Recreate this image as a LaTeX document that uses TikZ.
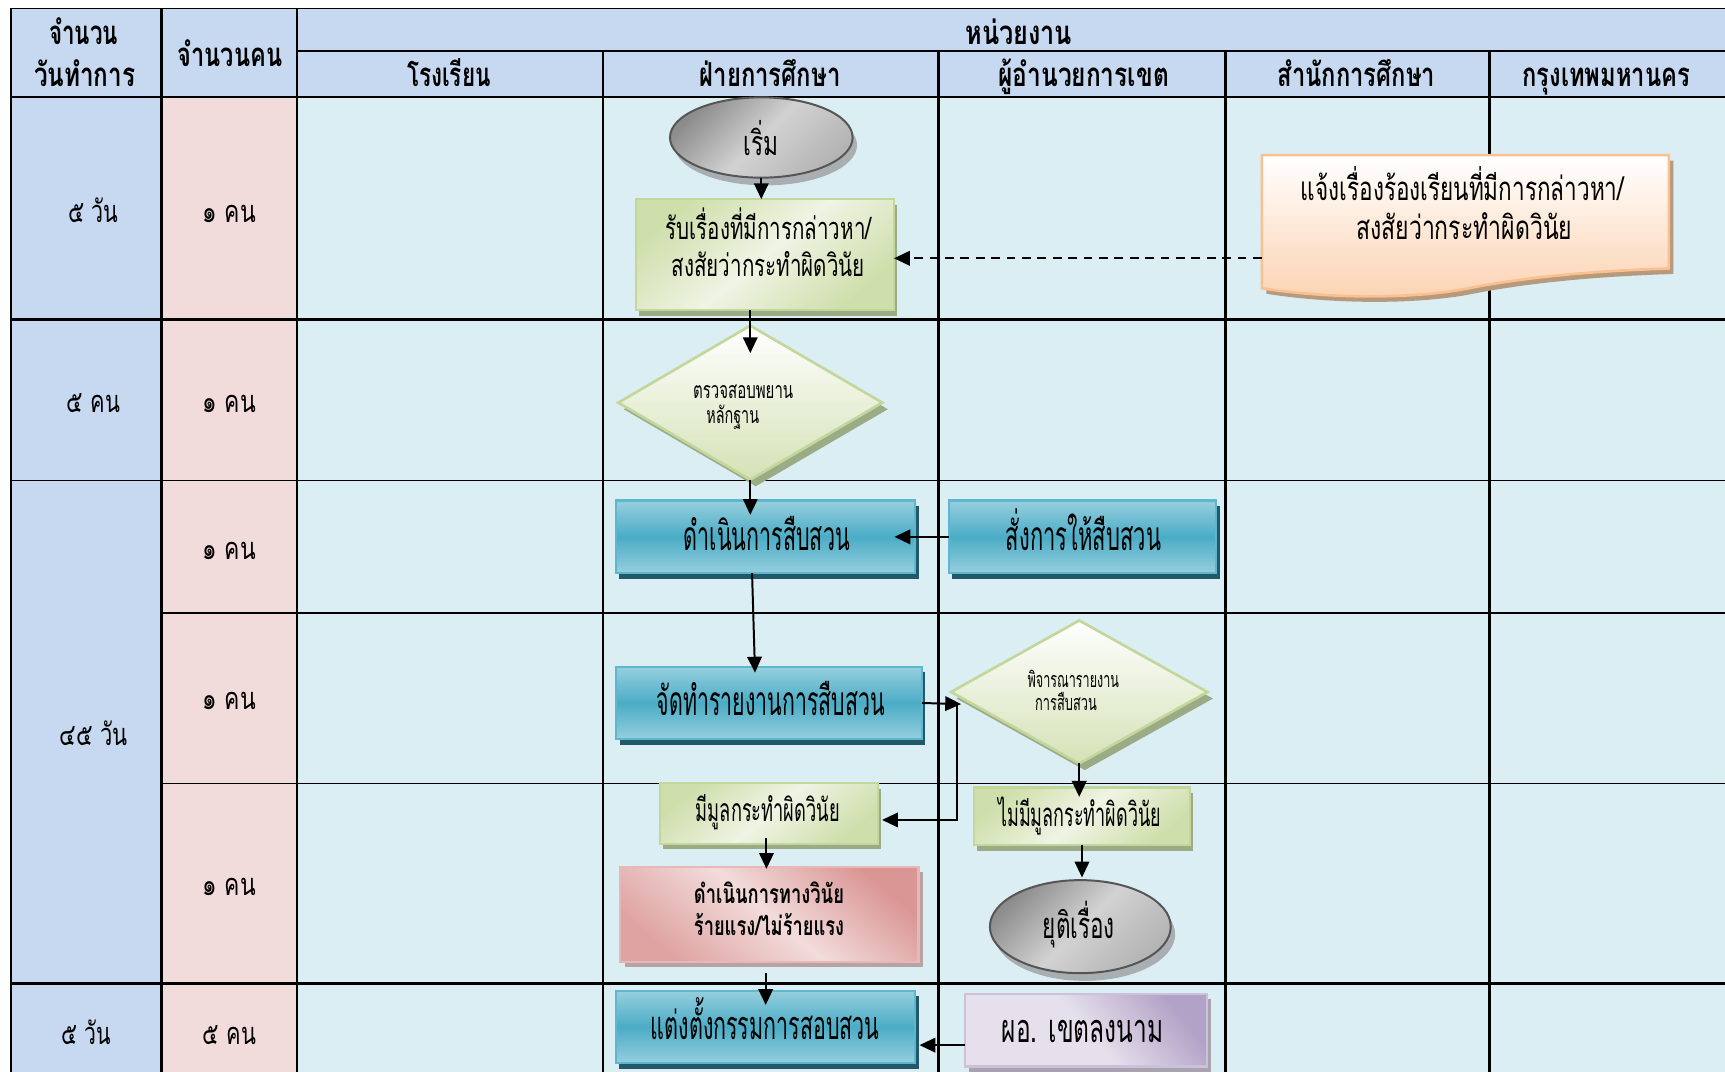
\documentclass[tikz,border=0pt]{standalone}
\usepackage{fontspec}
\usepackage{graphicx}
\usetikzlibrary{shapes.geometric,arrows.meta,shadows}
\newfontfamily\thf[Script=Thai]{Loma}
% set one line of text to a given width, keeping its height
\newcommand\tw[2]{\resizebox{#1}{\height}{#2}}

\definecolor{headfill}{HTML}{C6D9F1}
\definecolor{pplfill}{HTML}{F2DCDB}
\definecolor{lanefill}{HTML}{DBEEF4}
\definecolor{bluelt}{HTML}{96CFDE}
\definecolor{bluemid}{HTML}{4BACC6}
\definecolor{blueedge}{HTML}{5DB7CF}
\definecolor{blueshad}{HTML}{215968}
\definecolor{greenA}{HTML}{CFDFAC}
\definecolor{greenB}{HTML}{EFF4E4}
\definecolor{greenedge}{HTML}{C3D69B}
\definecolor{greenshad}{HTML}{9AAB86}
\definecolor{diambot}{HTML}{D4E2B6}
\definecolor{grayA}{HTML}{8C8C8C}
\definecolor{grayB}{HTML}{D2D2D2}
\definecolor{grayC}{HTML}{B4B4B4}
\definecolor{grayedge}{HTML}{555555}
\definecolor{grayshad}{HTML}{A3A8AA}
\definecolor{redA}{HTML}{DA9694}
\definecolor{redB}{HTML}{F2DCDB}
\definecolor{rededge}{HTML}{E6B9B8}
\definecolor{redshad}{HTML}{B8A3A3}
\definecolor{purA}{HTML}{E6E0EC}
\definecolor{purB}{HTML}{B3A2C7}
\definecolor{puredge}{HTML}{CCC1DA}
\definecolor{purshad}{HTML}{A9A3B0}
\definecolor{docpeach}{HTML}{FBD3B2}
\definecolor{docedge}{HTML}{FAC090}
\definecolor{docshad}{HTML}{B59A7E}

\newcommand\docoutline{(1147,141) -- (1517,141) -- (1517,244)
  .. controls (1460,246) and (1400,250) .. (1340,261)
  .. controls (1290,272) and (1210,272) .. (1147,262) -- cycle}

\begin{document}
\begin{tikzpicture}[x=0.5pt,y=-0.5pt,
  tx/.style={anchor=base, inner sep=0pt, outer sep=0pt, font=\thf\fontsize{#1}{#1}\selectfont},
  txb/.style={tx=#1, font=\thf\bfseries\fontsize{#1}{#1}\selectfont},
  shp/.style={inner sep=0pt, outer sep=0pt},
  bluebox/.style={shp, rectangle, draw=blueedge, line width=1pt,
    top color=bluelt, bottom color=bluelt, middle color=bluemid,
    drop shadow={shadow xshift=1.5pt, shadow yshift=-2.5pt, fill=blueshad, opacity=1}},
  greenbox/.style={shp, rectangle, draw=greenedge, line width=1pt,
    top color=greenA, bottom color=greenA, middle color=greenB, shading angle=40,
    drop shadow={shadow xshift=1.5pt, shadow yshift=-2.5pt, fill=greenshad, opacity=1}},
  greendiam/.style={shp, diamond, draw=greenedge, line width=1.2pt,
    top color=white, bottom color=diambot,
    drop shadow={shadow xshift=2.5pt, shadow yshift=-3pt, fill=greenshad, opacity=1}},
  ellgray/.style={shp, ellipse, draw=grayedge, line width=0.9pt,
    top color=grayA, bottom color=grayC, middle color=grayB, shading angle=45,
    drop shadow={shadow xshift=2pt, shadow yshift=-3.5pt, fill=grayshad, opacity=0.9}},
  redbox/.style={shp, rectangle, draw=rededge, line width=1pt,
    top color=redA, bottom color=redA!80!redB, middle color=redB, shading angle=-40,
    drop shadow={shadow xshift=2pt, shadow yshift=-2.5pt, fill=redshad, opacity=1}},
  purplebox/.style={shp, rectangle, draw=puredge, line width=1pt,
    top color=purB, bottom color=purA, middle color=purA, shading angle=-50,
    drop shadow={shadow xshift=2pt, shadow yshift=-2.5pt, fill=purshad, opacity=1}},
  arr/.style={line width=0.9pt, -{Triangle[length=7.2pt,width=6.6pt]}},
  rule/.style={line width=#1}
]
\useasboundingbox (0,0) rectangle (1568,974);
\fill[white] (0,0) rectangle (1568,974);

% ---- table background ----
\fill[headfill] (10,7.6) rectangle (1568,87.9);
\fill[headfill] (10,87.9) rectangle (147,974);
\fill[pplfill] (147,87.9) rectangle (270,974);
\fill[lanefill] (270,87.9) rectangle (1568,974);

% ---- table rules ----
\draw[rule=0.5pt] (10,7.6) -- (1568,7.6);
\draw[rule=1pt] (270,46.4) -- (1568,46.4);
\draw[rule=1pt] (10,87.9) -- (1568,87.9);
\draw[rule=1.1pt] (10,290.5) -- (1568,290.5);
\draw[rule=0.6pt] (10,436.5) -- (1568,436.5);
\draw[rule=0.85pt] (147,557) -- (1568,557);
\draw[rule=0.6pt] (147,712) -- (1568,712);
\draw[rule=1.3pt] (10,894) -- (1568,894);
\draw[rule=1.2pt] (10,7.6) -- (10,974);
\draw[rule=1.2pt] (147,7.6) -- (147,974);
\draw[rule=1.2pt] (270,7.6) -- (270,974);
\foreach \cx in {548,853,1114,1354}
  \draw[rule=1pt] (\cx,46.4) -- (\cx,974);

% ---- header texts ----
\node[txb=15] (hdA) at (76,40) {\tw{31.3pt}{จำนวน}};
\node[txb=15] (hdB) at (77,78.5) {\tw{46pt}{วันทำการ}};
\node[txb=15] (hdC) at (209,60.5) {\tw{47.5pt}{จำนวนคน}};
\node[txb=15] (hdD) at (926,40.5) {\tw{48.5pt}{หน่วยงาน}};
\node[txb=15] (hsA) at (408,79) {\tw{38pt}{โรงเรียน}};
\node[txb=15] (hsB) at (700,79) {\tw{64pt}{ฝ่ายการศึกษา}};
\node[txb=15] (hsC) at (985,79) {\tw{77.5pt}{ผู้อำนวยการเขต}};
\node[txb=15] (hsD) at (1233,79) {\tw{71.5pt}{สำนักการศึกษา}};
\node[txb=15] (hsE) at (1460,79) {\tw{76pt}{กรุงเทพมหานคร}};

% ---- time and staff columns ----
\node[tx=14] (dA) at (84.8,201.8) {\tw{22.75pt}{๕ วัน}};
\node[tx=14] (dB) at (85,375) {\tw{24.25pt}{๕ คน}};
\node[tx=14] (dC) at (85,677.9) {\tw{30.9pt}{๔๕ วัน}};
\node[tx=14] (dD) at (78.5,949) {\tw{22.5pt}{๕ วัน}};
\node[tx=14] (pA) at (208.4,201.8) {\tw{24.25pt}{๑ คน}};
\node[tx=14] (pB) at (208.4,375) {\tw{24.25pt}{๑ คน}};
\node[tx=14] (pC) at (208.4,508.5) {\tw{24.25pt}{๑ คน}};
\node[tx=14] (pD) at (208.4,645.3) {\tw{24.25pt}{๑ คน}};
\node[tx=14] (pE) at (208.4,814) {\tw{24.25pt}{๑ คน}};
\node[tx=14] (pF) at (208.4,949) {\tw{24.25pt}{๕ คน}};

% ---- complaint document ----
\fill[docshad, shift={(4,5)}] \docoutline;
\shade[top color=white, bottom color=docpeach] \docoutline;
\draw[docedge, line width=1.2pt] \docoutline;
\node[shp, minimum width=185pt, minimum height=60.5pt] (doc) at (1332,201.5) {};

% ---- flow shapes ----
\node[ellgray, minimum width=83pt, minimum height=36.5pt] (start) at (692,125) {};
\node[greenbox, minimum width=117.3pt, minimum height=50.5pt] (rcv) at (695.3,231.5) {};
\node[greendiam, minimum width=120pt, minimum height=70pt] (chk) at (682,366) {};
\node[bluebox, minimum width=136pt, minimum height=33pt] (inv) at (696,488) {};
\node[bluebox, minimum width=121.5pt, minimum height=33pt] (ord) at (984,488) {};
\node[bluebox, minimum width=139pt, minimum height=33pt] (rep) at (699.2,639) {};
\node[greendiam, minimum width=116.5pt, minimum height=65pt] (con) at (981,629) {};
\node[greenbox, minimum width=99pt, minimum height=27.5pt] (yes) at (699,739.5) {};
\node[greenbox, minimum width=98.2pt, minimum height=26.2pt] (no) at (983.5,742) {};
\node[redbox, minimum width=135.5pt, minimum height=43.2pt] (disc) at (699.4,831) {};
\node[ellgray, minimum width=82.2pt, minimum height=42.3pt] (endn) at (982,842.3) {};
\node[bluebox, minimum width=136pt, minimum height=33pt] (com) at (696,933.5) {};
\node[purplebox, minimum width=110pt, minimum height=33pt] (sign) at (987,936.5) {};

% ---- texts in the shapes ----
\node[tx=15.5] (tstart) at (691.5,141.5) {\tw{15.9pt}{เริ่ม}};
\node[tx=14] (trcvA) at (698.7,218.1) {\tw{93.5pt}{รับเรื่องที่มีการกล่าวหา/}};
\node[tx=14] (trcvB) at (698.4,250.9) {\tw{87.8pt}{สงสัยว่ากระทำผิดวินัย}};
\node[tx=15] (tdocA) at (1329.4,181.8) {\tw{146.9pt}{แจ้งเรื่องร้องเรียนที่มีการกล่าวหา/}};
\node[tx=15] (tdocB) at (1331,218) {\tw{98.2pt}{สงสัยว่ากระทำผิดวินัย}};
\node[tx=10.5] (tchkA) at (675.5,362.6) {\tw{45.5pt}{ตรวจสอบพยาน}};
\node[tx=10.5] (tchkB) at (666,385) {\tw{24pt}{หลักฐาน}};
\node[tx=18.5] (tinv) at (697,500) {\tw{75.5pt}{ดำเนินการสืบสวน}};
\node[tx=18.5] (tord) at (984.9,500) {\tw{70.5pt}{สั่งการให้สืบสวน}};
\node[tx=18.5] (trep) at (700.7,650.8) {\tw{103.7pt}{จัดทำรายงานการสืบสวน}};
\node[tx=9.8] (tconA) at (975.6,624.5) {\tw{41.5pt}{พิจารณารายงาน}};
\node[tx=9.8] (tconB) at (969,645.4) {\tw{28pt}{การสืบสวน}};
\node[tx=14.5] (tyes) at (698,746.8) {\tw{65.5pt}{มีมูลกระทำผิดวินัย}};
\node[tx=15] (tno) at (981.3,751.4) {\tw{74pt}{ไม่มีมูลกระทำผิดวินัย}};
\node[txb=12] (tdiscA) at (699,821) {\tw{68.2pt}{ดำเนินการทางวินัย}};
\node[txb=12] (tdiscB) at (699,850.8) {\tw{68.2pt}{ร้ายแรง/ไม่ร้ายแรง}};
\node[tx=16.5] (tendn) at (980.7,852.9) {\tw{32.7pt}{ยุติเรื่อง}};
\node[tx=18] (tcom) at (695.6,944.7) {\tw{104pt}{แต่งตั้งกรรมการสอบสวน}};
\node[tx=18] (tsign) at (984,947.7) {\tw{73.3pt}{ผอ. เขตลงนาม}};

% ---- connectors ----
\draw[arr] (start.south) -- (start.south |- rcv.north);
\draw[arr, dash pattern=on 4pt off 3pt] ([yshift=-16.65pt]doc.west) -- ([yshift=-1.65pt]rcv.east);
\draw[arr] (chk.north |- rcv.south) -- ([yshift=-12.5pt]chk.north);
\draw[arr] (chk.south) -- ([yshift=-6.5pt]chk.south |- inv.north);
\draw[arr] (ord.west) -- ([xshift=-9.5pt]inv.east);
\draw[arr] ([xshift=-6.2pt]inv.south) -- ([xshift=-6.45pt,yshift=-2.7pt]rep.north);
\draw[arr] (rep.east) -- ([xshift=4.55pt,yshift=-5.5pt]con.west);
\coordinate (jn) at ([xshift=15.9pt,yshift=-0.5pt]rep.east);
\draw[arr] (jn) |- ([xshift=1.9pt,yshift=-2.9pt]yes.east);
\draw[arr] (con.south) -- ([yshift=-4.25pt]con.south |- no.north);
\draw[arr] ([xshift=-1.15pt,yshift=2.5pt]yes.south) -- ([xshift=-1.15pt,yshift=-1pt]yes.south |- disc.north);
\draw[arr] (no.south) -- ([yshift=1.2pt]no.south |- endn.north);
\draw[arr] ([yshift=-5.3pt]com.north |- disc.south) -- ([yshift=-6.5pt]com.north);
\draw[arr] ([yshift=-6.75pt]sign.west) -- ([yshift=-6.75pt,xshift=1.9pt]sign.west -| com.east);
\end{tikzpicture}
\end{document}
